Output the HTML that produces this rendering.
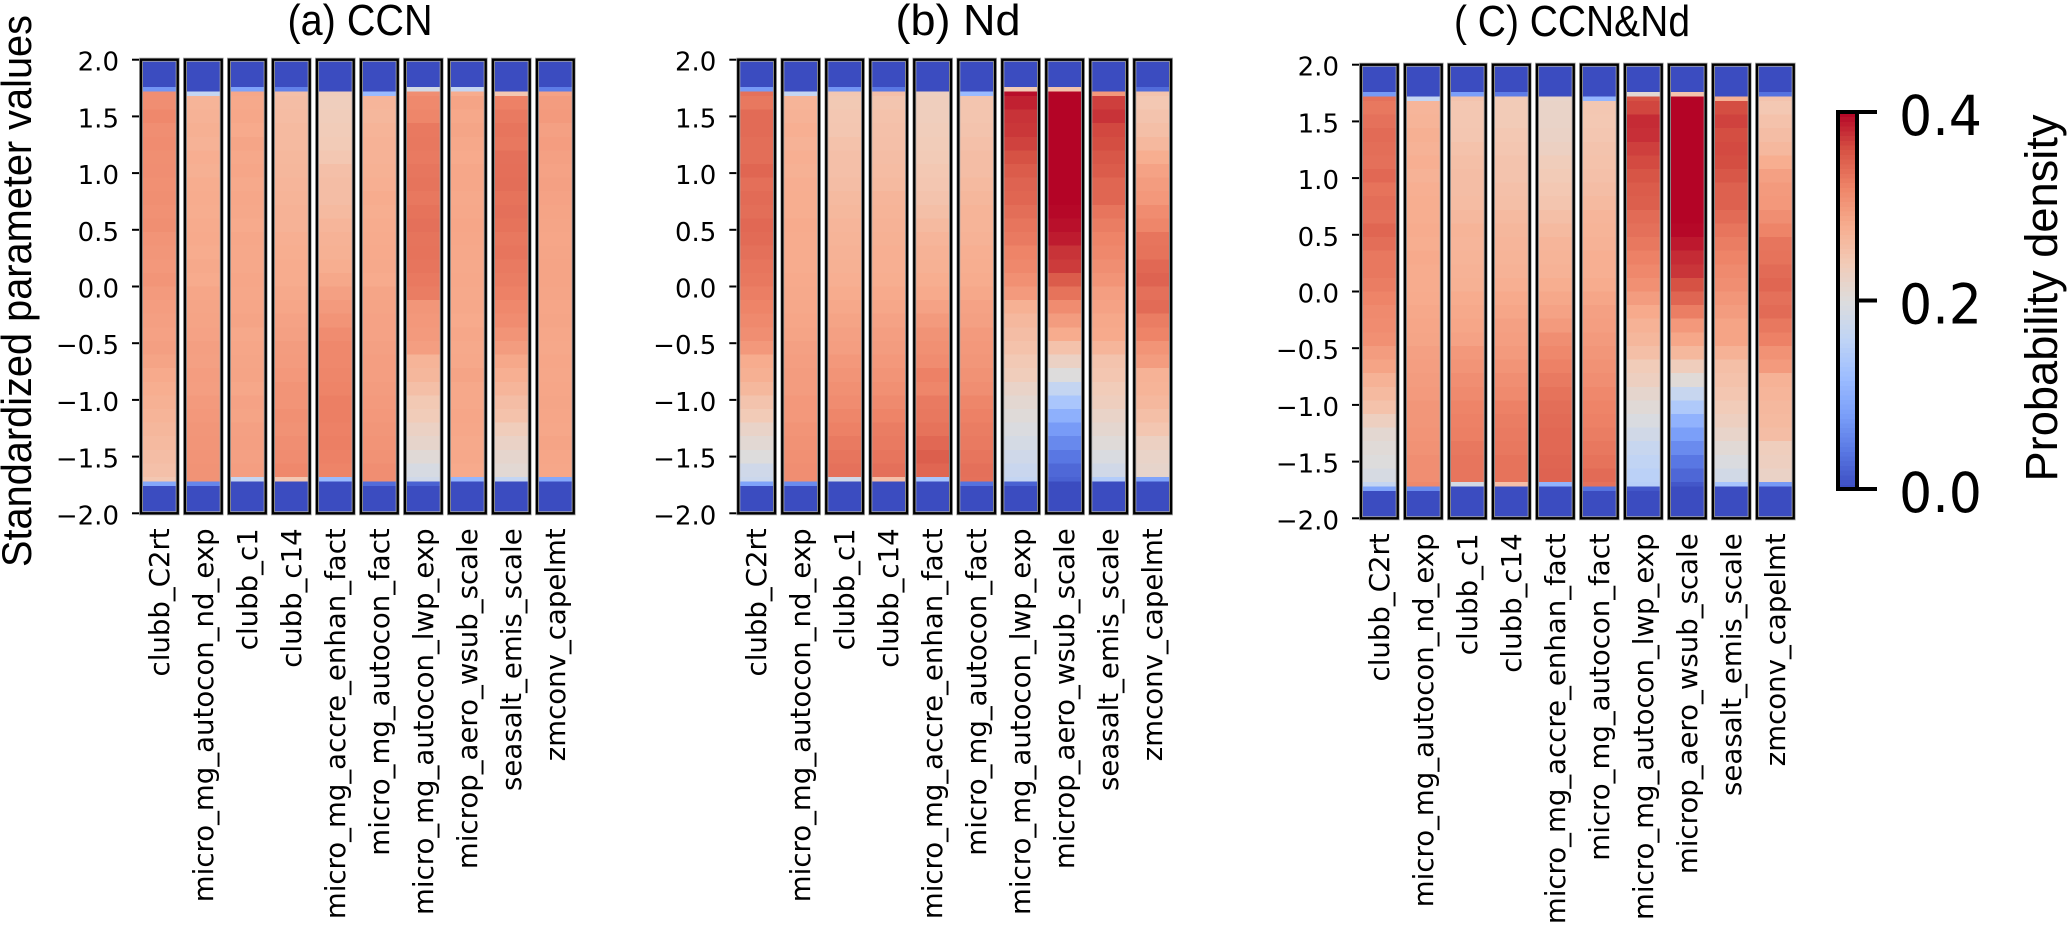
<!DOCTYPE html>
<html lang="en">
<head>
<meta charset="utf-8">
<title>Probability density of standardized parameter values</title>
<style>
  html, body { margin: 0; padding: 0; background: #fff; }
  svg { display: block; }
  .tick { font-family: "DejaVu Sans", sans-serif; fill: #000; }
  .big { font-family: "Liberation Sans", sans-serif; fill: #000; }
</style>
</head>
<body>
<svg id="figure" xmlns="http://www.w3.org/2000/svg" width="2067" height="925" viewBox="0 0 2067 925">
  <rect x="0" y="0" width="2067" height="925" fill="#fff"/>
  <text class="big" font-size="42" text-anchor="middle" textLength="552" lengthAdjust="spacingAndGlyphs" transform="translate(31,291) rotate(-90)">Standardized parameter values</text>
  <text class="big" font-size="44" text-anchor="middle" textLength="145" lengthAdjust="spacingAndGlyphs" x="360" y="35">(a) CCN</text>
  <text class="big" font-size="44" text-anchor="middle" textLength="125" lengthAdjust="spacingAndGlyphs" x="958" y="35">(b) Nd</text>
  <text class="big" font-size="44" text-anchor="middle" textLength="236" lengthAdjust="spacingAndGlyphs" x="1572" y="36">( C) CCN&amp;Nd</text>
  <text class="big" font-size="45" text-anchor="middle" textLength="367" lengthAdjust="spacingAndGlyphs" transform="translate(2057,298) rotate(-90)">Probability density</text>
</svg>
<script>
// Parameter names along each panel's x axis
const categories = ["clubb_C2rt","micro_mg_autocon_nd_exp","clubb_c1","clubb_c14","micro_mg_accre_enhan_fact","micro_mg_autocon_fact","micro_mg_autocon_lwp_exp","microp_aero_wsub_scale","seasalt_emis_scale","zmconv_capelmt"];
// Y axis ticks
const yTicks = [2,1.5,1,0.5,0,-0.5,-1,-1.5,-2];
// Colorbar ticks (density x 1000)
const colorTicks = [0,200,400];
// Edges of the parameter-value bins, top to bottom
const binEdges = [2,1.76,1.72,1.68,1.56,1.44,1.32,1.2,1.08,0.96,0.84,0.72,0.6,0.48,0.36,0.24,0.12,0,-0.12,-0.24,-0.36,-0.48,-0.6,-0.72,-0.84,-0.96,-1.08,-1.2,-1.32,-1.44,-1.56,-1.68,-1.72,-1.76,-2];
// Probability density x 1000: one row per parameter, one value per bin
const ccnDensity = [
[0,70,310,310,316,310,312,309,310,308,309,307,309,304,302,300,303,298,295,293,291,293,288,282,278,274,270,266,262,258,254,245,90,0],
[0,0,165,270,272,275,272,277,275,279,280,279,281,282,280,283,281,286,287,288,290,293,292,295,294,298,300,302,303,304,305,305,55,0],
[0,85,285,283,285,282,287,284,286,283,285,284,282,285,284,284,286,285,286,288,284,286,287,288,285,290,288,292,293,292,294,165,0,0],
[0,50,255,258,260,262,262,265,266,268,270,272,272,276,278,280,280,283,286,290,292,296,297,300,304,304,308,306,310,312,316,245,0,0],
[0,0,235,234,236,238,240,245,255,258,258,262,268,272,274,278,284,292,298,304,312,316,316,318,320,324,324,322,324,322,320,115,0,0],
[0,0,115,268,266,270,272,272,274,276,280,278,280,281,282,283,281,287,288,290,290,292,294,294,296,298,300,302,304,306,310,310,30,0],
[0,185,310,315,318,329,330,328,331,333,330,334,336,333,334,332,329,326,302,300,298,294,270,266,256,243,238,226,218,206,190,180,20,0],
[0,165,280,288,284,287,284,282,285,285,283,284,286,285,284,283,284,283,284,282,285,283,284,288,284,284,286,285,283,284,282,110,0,0],
[0,0,245,322,328,332,330,336,337,338,334,336,334,330,332,328,326,322,316,312,304,296,284,276,268,258,252,236,224,216,210,165,0,0],
[0,45,290,296,298,292,295,292,290,292,290,288,287,286,287,288,288,287,286,287,285,284,286,285,286,287,286,285,288,286,285,90,0,0]
];
const ndDensity = [
[0,75,335,330,340,340,338,338,344,337,340,338,342,340,336,332,330,325,320,315,310,300,280,275,265,250,240,222,210,200,180,175,85,0],
[0,0,165,270,272,276,272,276,274,277,278,278,281,280,280,280,282,283,284,286,288,292,294,296,296,300,300,304,306,308,310,310,60,0],
[0,70,245,243,245,246,252,255,255,258,262,265,268,270,272,274,276,280,284,288,292,294,300,304,308,312,318,322,328,332,335,180,0,0],
[0,40,255,248,252,254,255,258,260,262,268,270,272,274,276,276,278,282,285,290,294,296,300,304,308,314,320,326,328,332,336,255,0,0],
[0,0,230,234,234,236,238,240,244,246,250,256,262,268,272,274,278,282,290,298,305,308,312,322,318,328,330,334,342,350,344,130,0,0],
[0,0,115,248,248,250,254,258,258,262,266,270,270,272,276,278,280,284,290,292,298,300,302,306,310,318,322,326,328,332,336,335,35,0],
[0,240,395,385,376,374,368,360,352,346,344,338,332,328,320,316,308,298,274,264,258,252,242,236,222,212,204,196,188,180,172,165,20,0],
[0,250,400,400,400,400,400,400,400,400,400,398,394,388,376,372,352,334,312,296,280,252,226,200,166,134,102,76,58,40,26,20,0,0],
[0,0,300,370,376,365,362,356,352,344,344,332,326,320,316,310,304,294,290,284,282,268,250,246,238,232,222,214,204,194,182,145,0,0],
[0,30,250,244,250,256,264,278,290,296,300,312,318,332,334,342,346,336,340,326,320,304,296,272,270,264,256,246,228,222,218,85,0,0]
];
const bothDensity = [
[0,75,335,330,335,340,338,336,342,334,338,336,344,338,330,330,326,320,314,312,308,296,288,272,262,252,230,212,205,200,190,165,85,0],
[0,0,165,268,270,275,272,276,272,276,278,278,280,278,282,280,280,281,284,286,287,292,294,296,298,302,302,304,306,310,310,315,60,0],
[0,80,250,245,245,246,252,256,258,258,260,264,270,268,270,272,274,280,283,286,290,300,304,310,314,320,322,324,330,332,332,185,0,0],
[0,45,240,240,240,244,246,250,250,254,256,262,266,268,270,272,276,282,286,292,294,298,304,310,314,322,326,328,330,334,334,255,0,0],
[0,0,220,222,222,224,228,236,240,244,248,256,262,268,270,272,278,284,290,298,310,316,322,328,334,338,340,342,342,345,346,105,0,0],
[0,0,110,245,244,246,250,252,254,258,262,268,270,272,276,276,280,286,292,294,298,302,306,310,316,320,322,326,330,334,340,335,35,0],
[0,210,360,366,380,378,370,364,358,352,350,340,336,330,322,316,308,296,282,272,266,256,238,230,216,206,194,182,170,162,154,150,10,0],
[0,250,400,400,400,400,400,400,400,400,400,400,398,390,380,375,360,345,325,300,285,265,235,205,170,140,105,80,60,40,25,10,0,0],
[0,0,275,362,368,362,364,362,356,348,348,340,332,326,320,314,310,302,296,288,288,272,256,252,246,238,230,220,208,196,184,130,0,0],
[0,35,250,244,252,258,264,278,292,298,300,310,320,332,334,340,344,336,340,330,322,306,298,272,268,264,262,258,234,230,224,75,0,0]
];

const svgNS = "http://www.w3.org/2000/svg";
const svg = document.getElementById("figure");
const densityMax = 400;
const cmapStops = [[59,76,192],[89,119,227],[123,159,249],[158,190,255],[192,212,245],[221,220,220],[242,203,183],[247,172,142],[238,132,104],[214,82,68],[180,4,38]];
const barPitch = 44, barWidth = 36.7, unitHeight = 113.4;

function colorFor(density) {
  const t = Math.max(0, Math.min(1, density / densityMax)) * (cmapStops.length - 1);
  const i = Math.min(cmapStops.length - 2, Math.floor(t));
  const f = t - i;
  const c = cmapStops[i].map(function (v, k) { return Math.round(v + (cmapStops[i + 1][k] - v) * f); });
  return "rgb(" + c.join(",") + ")";
}
function xScale(x0, index) { return x0 + index * barPitch; }
function yScale(y0, value) { return y0 + (2 - value) * unitHeight; }
function formatTick(v) { return (v < 0 ? "\u2212" : "") + Math.abs(v).toFixed(1); }
function make(parent, tag, attrs) {
  const el = document.createElementNS(svgNS, tag);
  for (const k in attrs) el.setAttribute(k, attrs[k]);
  parent.appendChild(el);
  return el;
}

function drawPanel(name, matrix, x0, y0) {
  const group = make(svg, "g", {});
  
  
  group.setAttribute('aria-label', name);

  yTicks.forEach(function (tick) {
    const y = yScale(y0, tick);
    const mark = make(group, "line", { x1: x0 - 9, x2: x0, y1: y, y2: y, stroke: "#000", "stroke-width": 2 });
    
    
    const label = make(group, "text", { x: x0 - 22, y: y + 11, "text-anchor": "end", "font-size": 26, "class": "tick" });
    label.textContent = formatTick(tick);
    
    
  });

  matrix.forEach(function (column, c) {
    const x = xScale(x0, c);
    const yTop = yScale(y0, binEdges[0]);
    const yBottom = yScale(y0, binEdges[binEdges.length - 1]);
    column.forEach(function (density, b) {
      const yA = yScale(y0, binEdges[b]);
      const yB = yScale(y0, binEdges[b + 1]);
      const cell = make(group, "rect", { x: x, y: yA, width: barWidth, height: yB - yA, fill: colorFor(density), "shape-rendering": "crispEdges" });
      
      
    });
    const halo = make(group, "rect", { x: x, y: yTop, width: barWidth, height: yBottom - yTop, fill: "none", stroke: "#a8a8a8", "stroke-width": 4 });
    
    
    const outline = make(group, "rect", { x: x, y: yTop, width: barWidth, height: yBottom - yTop, fill: "none", stroke: "#000", "stroke-width": 2.4 });
    
    
    const cx = x + barWidth / 2;
    const labelY = yBottom + 15;
    const label = make(group, "text", { "text-anchor": "end", "dominant-baseline": "central", "font-size": 27.6, "class": "tick", transform: "translate(" + cx + "," + labelY + ") rotate(-90)" });
    label.textContent = categories[c];
    
    
  });
}

drawPanel("CCN", ccnDensity, 141, 59.7);
drawPanel("Nd", ndDensity, 738.3, 59.7);
drawPanel("CCN and Nd", bothDensity, 1361, 64.7);

// Colorbar
const cbarGroup = make(svg, "g", {});


const cbarX = 1838, cbarW = 19, cbarTop = 112, cbarBottom = 489;
function cbarY(density) { return cbarBottom - (density / densityMax) * (cbarBottom - cbarTop); }
for (let d = 0; d < densityMax; d += 5) {
  const strip = make(cbarGroup, "rect", { x: cbarX, y: cbarY(d + 5), width: cbarW, height: cbarY(d) - cbarY(d + 5) + 0.5, fill: colorFor(d + 2.5), "shape-rendering": "crispEdges" });
  
  
}
const cbarFrame = make(cbarGroup, "rect", { x: cbarX, y: cbarTop, width: cbarW, height: cbarBottom - cbarTop, fill: "none", stroke: "#000", "stroke-width": 4 });


colorTicks.forEach(function (tick) {
  const y = cbarY(tick);
  const mark = make(cbarGroup, "line", { x1: cbarX + cbarW, x2: 1877, y1: y, y2: y, stroke: "#000", "stroke-width": 4 });
  
  
  const label = make(cbarGroup, "text", { x: 1899, y: y + 23, "font-size": 55, textLength: 83, lengthAdjust: "spacingAndGlyphs", "class": "tick" });
  label.textContent = (tick / 1000).toFixed(1);
  
  
});
</script>
</body>
</html>
